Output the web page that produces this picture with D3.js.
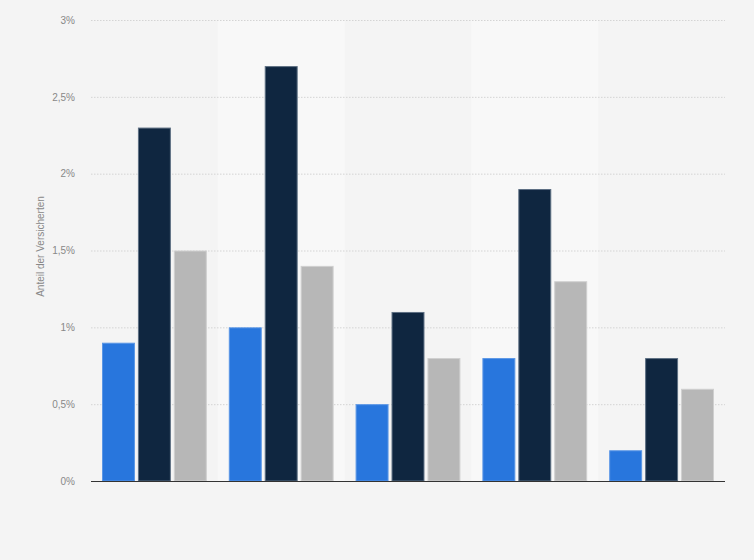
<!DOCTYPE html>
<html lang="de">
<head>
  <meta charset="UTF-8">
  <title>Anteil der Versicherten</title>
  <style>
    body { margin: 0; background: #f4f4f4; }
    svg { display: block; font-family: "Liberation Sans", Arial, sans-serif; }
    .grid line { stroke: #d4d4d4; stroke-dasharray: 1.5 1.5; }
    .yAxis text { fill: #888; font-size: 10px; }
  </style>
</head>
<body>
  <script src="https://d3js.org/d3.v7.min.js"></script>
  <script>
    const SVGWIDTH = 754;
    const SVGHEIGHT = 560;
    const margin = {top: 20, right: 29, bottom: 79, left: 91};
    const innerWidth = SVGWIDTH - margin.left - margin.right;
    const innerHeight = SVGHEIGHT - margin.top - margin.bottom;

    // data (values in %)
    const categories = ['G1', 'G2', 'G3', 'G4', 'G5'];
    const seriesNames = ['Reihe 1', 'Reihe 2', 'Reihe 3'];
    const series1 = [0.9, 1.0, 0.5, 0.8, 0.2];
    const series2 = [2.3, 2.7, 1.1, 1.9, 0.8];
    const series3 = [1.5, 1.4, 0.8, 1.3, 0.6];
    const yTicks = [0, 0.5, 1, 1.5, 2, 2.5, 3];
    const colors = ['#2876dd', '#0f2640', '#b7b7b7'];
    const strokes = ['#5b97e6', '#5d6f83', '#cfcfcf'];

    const rows = categories.map((c, i) => ({
      cat: c,
      values: [series1[i], series2[i], series3[i]]
    }));

    const de = d3.formatLocale({decimal: ',', thousands: '.', grouping: [3], currency: ['', '€']});
    const fmt = de.format(',.1~f');

    const x0 = d3.scaleBand().domain(categories).range([0, innerWidth]);
    const x1 = d3.scaleBand().domain(d3.range(3))
      .range([11, x0.bandwidth() - 11])
      .paddingInner(0.083);
    const y = d3.scaleLinear().domain([0, 3]).range([innerHeight, 0]);

    const svg = d3.select('body').append('svg')
      .attr('width', SVGWIDTH)
      .attr('height', SVGHEIGHT);

    const main = svg.append('g')
      .attr('transform', `translate(${margin.left},${margin.top})`);

    // alternating column backgrounds
    main.selectAll('rect.band')
      .data(categories.filter((d, i) => i % 2 === 1))
      .enter().append('rect')
      .attr('class', 'band')
      .attr('x', d => x0(d))
      .attr('y', 0)
      .attr('width', x0.bandwidth())
      .attr('height', innerHeight)
      .attr('fill', '#f8f8f8');

    // grid lines
    main.append('g').attr('class', 'grid')
      .selectAll('line')
      .data(yTicks.filter(d => d > 0))
      .enter().append('line')
      .attr('x1', 0)
      .attr('x2', innerWidth)
      .attr('y1', d => y(d) + 0.5)
      .attr('y2', d => y(d) + 0.5);

    // bars
    const groups = main.selectAll('g.group')
      .data(rows)
      .enter().append('g')
      .attr('class', 'group')
      .attr('transform', d => `translate(${x0(d.cat)},0)`);

    groups.selectAll('rect')
      .data(d => d.values.map((v, i) => ({v, i})))
      .enter().append('rect')
      .attr('x', d => x1(d.i) + 0.5)
      .attr('y', d => y(d.v) + 0.5)
      .attr('width', x1.bandwidth() - 1)
      .attr('height', d => innerHeight - y(d.v) - 0.5)
      .attr('fill', d => colors[d.i])
      .attr('stroke', d => strokes[d.i])
      .attr('stroke-width', 1);

    // y axis
    const yAxis = d3.axisLeft(y)
      .tickValues(yTicks)
      .tickFormat(d => fmt(d) + '%')
      .tickSize(0)
      .tickPadding(16);
    const yAxisCont = main.append('g').attr('class', 'yAxis').call(yAxis);
    yAxisCont.select('.domain').remove();

    // baseline
    main.append('line')
      .attr('x1', 0)
      .attr('x2', innerWidth)
      .attr('y1', innerHeight + 0.5)
      .attr('y2', innerHeight + 0.5)
      .attr('stroke', '#333')
      .attr('stroke-width', 1.2);

    // y axis title
    svg.append('text')
      .attr('transform', `translate(44,${margin.top + innerHeight / 2 - 4}) rotate(-90)`)
      .attr('text-anchor', 'middle')
      .attr('fill', '#888')
      .attr('font-size', 10)
      .text('Anteil der Versicherten');
  </script>
</body>
</html>
